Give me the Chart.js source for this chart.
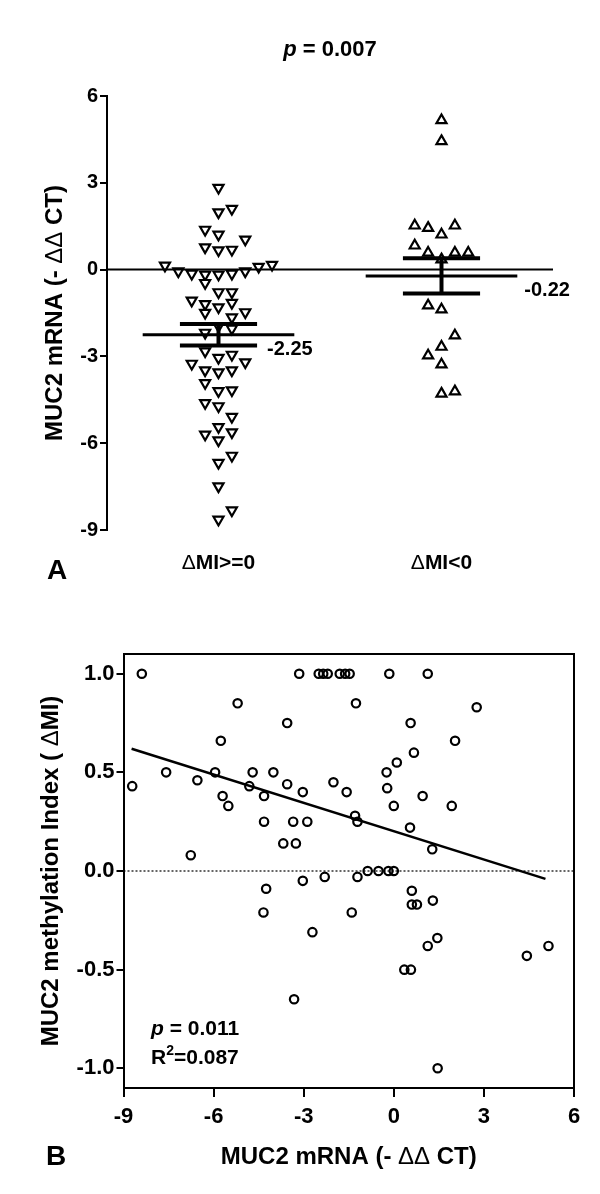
<!DOCTYPE html>
<html>
<head>
<meta charset="utf-8">
<script src="https://cdn.jsdelivr.net/npm/chart.js@4.4.1/dist/chart.umd.min.js"></script>
<style>
  html, body { margin: 0; padding: 0; background: #fff; }
  #wrap { position: relative; width: 600px; height: 1194px; }
  canvas { position: absolute; left: 0; }
  #chartA { top: 0; }
  #chartB { top: 600px; }
</style>
</head>
<body>
<div id="wrap">
  <canvas id="chartA" width="600" height="600"></canvas>
  <canvas id="chartB" width="600" height="594"></canvas>
</div>
<script>
// ---- Panel A: MUC2 mRNA by methylation group ----
const groupLabels = ['ΔMI>=0', 'ΔMI<0'];
const groupPos    = [0.5, 1.5];
const mrnaMIpos = [
  2.83, 1.98, 2.10, 1.38, 1.21, 1.04, 0.77, 0.67, 0.69,
  0.14, -0.06, -0.14, -0.17, -0.17, -0.14, -0.06, 0.10, 0.17,
  -0.46, -0.78, -0.78, -1.07, -1.19, -1.30, -1.15, -1.49, -1.47, -1.65,
  -2.04, -2.18, -1.95,
  -2.82, -3.05, -2.94, -3.25, -3.20, -3.48, -3.55, -3.48,
  -3.92, -4.20, -4.17, -4.61, -4.72,
  -5.09, -5.44, -5.70, -5.62, -5.90, -6.43, -6.68, -7.49, -8.32, -8.64
];
const slotMIpos = [
  0, 0, 1, -1, 0, 2, -1, 0, 1,
  -4, -3, -2, -1, 0, 1, 2, 3, 4,
  -1, 0, 1, -2, -1, 0, 1, -1, 2, 1,
  1, -1, 0,
  -1, 0, 1, -2, 2, -1, 0, 1,
  -1, 0, 1, -1, 0,
  1, 0, -1, 1, 0, 1, 0, 0, 1, 0
];
const mrnaMIneg = [
  5.16, 4.44, 1.52, 1.44, 1.21, 1.52, 0.83, 0.58, 0.58, 0.58, 0.35,
  -1.24, -1.38, -2.28, -2.67, -2.97, -3.28, -4.29, -4.21
];
const slotMIneg = [
  0, 0, -2, -1, 0, 1, -2, -1, 1, 2, 0,
  -1, 0, 1, 0, -1, 0, 0, 1
];
const groupMean = [-2.25, -0.22];
const groupSem  = [0.37, 0.61];
const yTicksA   = [-9, -6, -3, 0, 3, 6];
const pA = '0.007';

// ---- Panel B: methylation index vs mRNA ----
const mrnaB = [
  -8.39, -8.71, -5.20, -3.15, -2.50, -2.35, -2.20, -1.80, -1.62, -1.47, -0.15, 1.13,
  -3.55, -1.26, -5.76, -7.58, -6.54, -5.95, -4.70, -4.01, -4.81, -3.55, -4.32, -3.03,
  -5.70, -5.51, -2.01, -1.57, -1.29, -1.21, -4.32, -3.35, -2.88, -3.68, -3.26,
  2.76, 0.56, 2.04, 0.67, 0.10, -0.24, -0.22, 0.96, 0.00, 1.93, 0.54,
  -6.76, -4.25, -3.03, -2.30, -1.21, -0.87, -0.51, -0.18, 0.00,
  -4.34, -1.40, -2.71, -3.32, 1.28, 0.60, 0.60, 0.77, 1.30, 1.45, 1.13,
  4.43, 5.15, 0.35, 0.57, 1.46
];
const miB = [
  1.00, 0.43, 0.85, 1.00, 1.00, 1.00, 1.00, 1.00, 1.00, 1.00, 1.00, 1.00,
  0.75, 0.85, 0.66, 0.50, 0.46, 0.50, 0.50, 0.50, 0.43, 0.44, 0.38, 0.40,
  0.38, 0.33, 0.45, 0.40, 0.28, 0.25, 0.25, 0.25, 0.25, 0.14, 0.14,
  0.83, 0.75, 0.66, 0.60, 0.55, 0.50, 0.42, 0.38, 0.33, 0.33, 0.22,
  0.08, -0.09, -0.05, -0.03, -0.03, 0.00, 0.00, 0.00, 0.00,
  -0.21, -0.21, -0.31, -0.65, 0.11, -0.10, -0.17, -0.17, -0.15, -0.34, -0.38,
  -0.43, -0.38, -0.50, -0.50, -1.00
];
const fitX = [-8.73, 5.05];
const fitY = [0.62, -0.04];
const xTicksB = [-9, -6, -3, 0, 3, 6];
const yTicksB = [-1, -0.5, 0, 0.5, 1];
const pB  = '0.011';
const r2B = '0.087';

// ---- styling ----
const FAM = '"Liberation Sans", Arial, sans-serif';
const bold = s => 'bold ' + s + 'px ' + FAM;
const slotStep  = 0.06;
const meanHalf  = 0.34;
const capHalf   = 0.173;

function drawRich(ctx, parts, x, y, opts) {
  opts = opts || {};
  ctx.save();
  ctx.translate(x, y);
  if (opts.angle) ctx.rotate(opts.angle);
  ctx.fillStyle = '#000';
  ctx.textBaseline = 'middle';
  ctx.textAlign = 'left';
  let total = 0;
  parts.forEach(p => { ctx.font = p.font; total += ctx.measureText(p.text).width; });
  let cx = opts.left ? 0 : -total / 2;
  parts.forEach(p => {
    ctx.font = p.font;
    ctx.fillText(p.text, cx, p.dy || 0);
    cx += ctx.measureText(p.text).width;
  });
  ctx.restore();
}

function seg(x1, y1, x2, y2, w) {
  return {
    data: [{ x: x1, y: y1 }, { x: x2, y: y2 }],
    showLine: true, borderColor: '#000', borderWidth: w,
    pointRadius: 0, order: 0, borderCapStyle: 'butt'
  };
}

// ---- Chart A ----
const datasetsA = [];
datasetsA.push(seg(0, 0, 2, 0, 2));
groupPos.forEach((g, i) => {
  const m = groupMean[i], s = groupSem[i];
  datasetsA.push(seg(g - meanHalf, m, g + meanHalf, m, 3));
  datasetsA.push(seg(g - capHalf, m + s, g + capHalf, m + s, 4));
  datasetsA.push(seg(g - capHalf, m - s, g + capHalf, m - s, 4));
  datasetsA.push(seg(g, m - s, g, m + s, 4));
});
datasetsA.push({
  data: mrnaMIpos.map((v, i) => ({ x: groupPos[0] + slotMIpos[i] * slotStep, y: v })),
  pointStyle: 'triangle', rotation: 180, pointRadius: 5.8,
  backgroundColor: '#fff', borderColor: '#000', borderWidth: 2.2, order: 1
});
datasetsA.push({
  data: mrnaMIneg.map((v, i) => ({ x: groupPos[1] + slotMIneg[i] * slotStep, y: v })),
  pointStyle: 'triangle', pointRadius: 5.8,
  backgroundColor: '#fff', borderColor: '#000', borderWidth: 2.2, order: 1
});

const textA = {
  id: 'textA',
  afterDraw(chart) {
    const ctx = chart.ctx, xs = chart.scales.x, ys = chart.scales.y;
    drawRich(ctx, [
      { text: 'p', font: 'italic ' + bold(22) },
      { text: ' = ' + pA, font: bold(22) }
    ], (chart.chartArea.left + chart.chartArea.right) / 2, 50);
    drawRich(ctx, [
      { text: 'MUC2 mRNA (- ', font: bold(24) },
      { text: 'ΔΔ', font: '24px ' + FAM },
      { text: ' CT)', font: bold(24) }
    ], 55, (chart.chartArea.top + chart.chartArea.bottom) / 2, { angle: -Math.PI / 2 });
    groupLabels.forEach((lab, i) => {
      drawRich(ctx, [
        { text: lab.slice(0, 1), font: '21px ' + FAM },
        { text: lab.slice(1), font: bold(21) }
      ], xs.getPixelForValue(groupPos[i]), 563);
      const m = groupMean[i], s = groupSem[i];
      const lx = i === 0 ? xs.getPixelForValue(groupPos[i] + capHalf) + 10
                         : xs.getPixelForValue(groupPos[i] + meanHalf) + 7;
      const ly = ys.getPixelForValue(m - s) + (i === 0 ? 4 : -3);
      drawRich(ctx, [{ text: m.toFixed(2), font: bold(20) }], lx, ly, { left: true });
    });
    drawRich(ctx, [{ text: 'A', font: bold(28) }], 57, 571);
  }
};

new Chart(document.getElementById('chartA'), {
  type: 'scatter',
  data: { datasets: datasetsA },
  options: {
    responsive: false, animation: false, devicePixelRatio: 1,
    layout: { padding: { left: 0, top: 96, right: 47, bottom: 70 } },
    plugins: { legend: { display: false }, tooltip: { enabled: false } },
    scales: {
      x: { type: 'linear', min: 0, max: 2, display: false },
      y: {
        min: -9, max: 6,
        afterFit: s => { s.width = 107; },
        afterBuildTicks: s => { s.ticks = yTicksA.map(v => ({ value: v })); },
        ticks: { font: { family: FAM, size: 20, weight: 'bold' }, color: '#000', padding: 2 },
        grid: { drawOnChartArea: false, drawTicks: true, tickLength: 7, lineWidth: 2, color: '#000' },
        border: { display: true, width: 2, color: '#000' }
      }
    }
  },
  plugins: [textA]
});

// ---- Chart B ----
const textB = {
  id: 'textB',
  afterDatasetsDraw(chart) {
    const ctx = chart.ctx, a = chart.chartArea;
    ctx.save();
    ctx.strokeStyle = '#000';
    ctx.lineWidth = 2;
    ctx.beginPath();
    ctx.moveTo(a.left, a.top);
    ctx.lineTo(a.right, a.top);
    ctx.lineTo(a.right, a.bottom);
    ctx.stroke();
    ctx.restore();
  },
  afterDraw(chart) {
    const ctx = chart.ctx, a = chart.chartArea;
    drawRich(ctx, [
      { text: 'MUC2 methylation Index ( ', font: bold(24) },
      { text: 'Δ', font: '24px ' + FAM },
      { text: 'MI)', font: bold(24) }
    ], 51, (a.top + a.bottom) / 2, { angle: -Math.PI / 2 });
    drawRich(ctx, [
      { text: 'MUC2 mRNA (- ', font: bold(24) },
      { text: 'ΔΔ', font: '24px ' + FAM },
      { text: ' CT)', font: bold(24) }
    ], (a.left + a.right) / 2, 557);
    drawRich(ctx, [{ text: 'B', font: bold(28) }], 56, 557);
    drawRich(ctx, [
      { text: 'p', font: 'italic ' + bold(21) },
      { text: ' = ' + pB, font: bold(21) }
    ], 151, 429, { left: true });
    drawRich(ctx, [
      { text: 'R', font: bold(21) },
      { text: '2', font: bold(14), dy: -7 },
      { text: '=' + r2B, font: bold(21) }
    ], 151, 458, { left: true });
  }
};

new Chart(document.getElementById('chartB'), {
  type: 'scatter',
  data: {
    datasets: [
      {
        data: fitX.map((x, i) => ({ x, y: fitY[i] })),
        showLine: true, borderColor: '#000', borderWidth: 2.5, pointRadius: 0, order: 0
      },
      {
        data: [{ x: xTicksB[0], y: 0 }, { x: xTicksB[xTicksB.length - 1], y: 0 }],
        showLine: true, borderColor: '#000', borderWidth: 1.2, borderDash: [2, 2],
        pointRadius: 0, order: 2
      },
      {
        data: mrnaB.map((x, i) => ({ x, y: miB[i] })),
        pointStyle: 'circle', pointRadius: 4.2,
        backgroundColor: 'rgba(255,255,255,0)', borderColor: '#000', borderWidth: 2.2, order: 1
      }
    ]
  },
  options: {
    responsive: false, animation: false, devicePixelRatio: 1,
    layout: { padding: { left: 0, top: 54, right: 26, bottom: 66 } },
    plugins: { legend: { display: false }, tooltip: { enabled: false } },
    scales: {
      x: {
        type: 'linear', min: -9, max: 6,
        afterFit: s => { s.height = 40; },
        afterBuildTicks: s => { s.ticks = xTicksB.map(v => ({ value: v })); },
        ticks: { font: { family: FAM, size: 22, weight: 'bold' }, color: '#000', padding: 7, maxRotation: 0 },
        grid: { drawOnChartArea: false, drawTicks: true, tickLength: 9, lineWidth: 2, color: '#000' },
        border: { display: true, width: 2, color: '#000' }
      },
      y: {
        min: -1.1, max: 1.1,
        afterFit: s => { s.width = 123.5; },
        afterBuildTicks: s => { s.ticks = yTicksB.map(v => ({ value: v })); },
        ticks: { font: { family: FAM, size: 22, weight: 'bold' }, color: '#000', padding: 2,
                 callback: v => v.toFixed(1) },
        grid: { drawOnChartArea: false, drawTicks: true, tickLength: 7, lineWidth: 2, color: '#000' },
        border: { display: true, width: 2, color: '#000' }
      }
    }
  },
  plugins: [textB]
});
</script>
</body>
</html>
